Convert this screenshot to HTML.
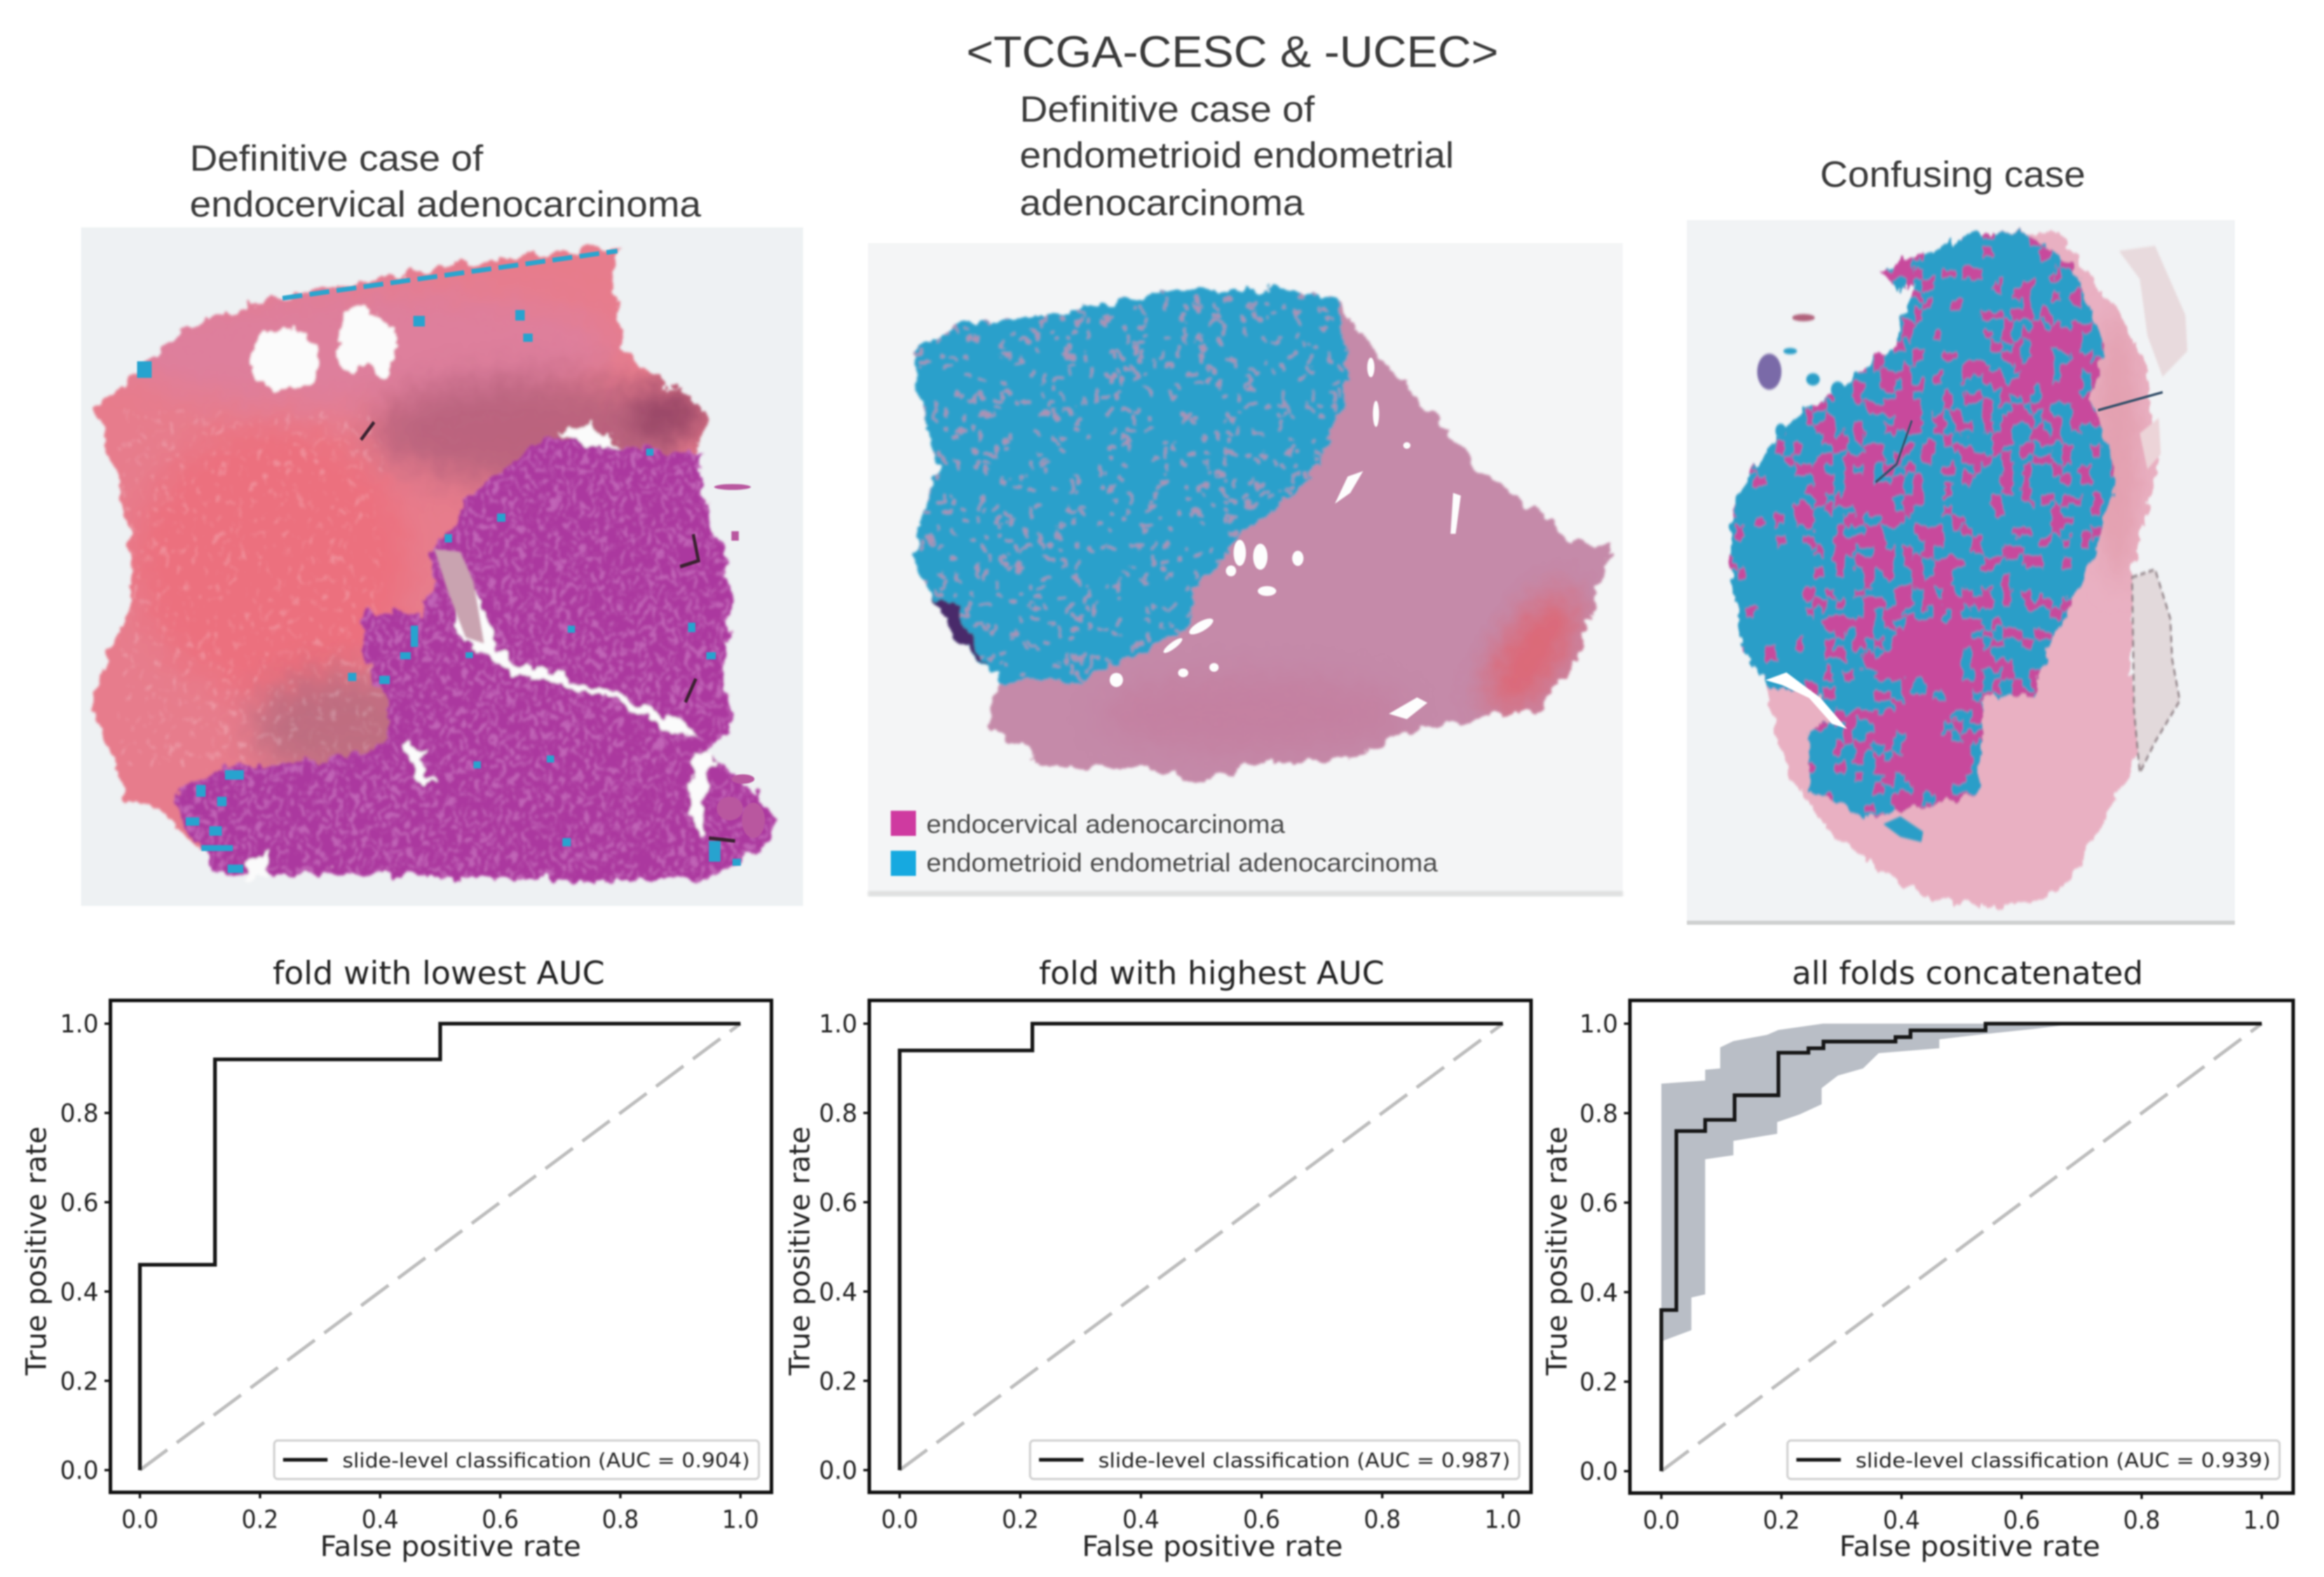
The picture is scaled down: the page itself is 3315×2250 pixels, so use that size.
<!DOCTYPE html>
<html lang="en"><head><meta charset="utf-8"><title>TCGA-CESC and UCEC slides and ROC curves</title>
<style>
html,body{margin:0;padding:0;background:#fff;width:3315px;height:2250px;overflow:hidden}
svg{display:block;filter:blur(1.1px)}
.h{font-family:"Liberation Sans",sans-serif;fill:#3a3a3a}
.c{font-family:"DejaVu Sans",sans-serif;fill:#222}
</style></head>
<body>
<svg id="fig" xmlns="http://www.w3.org/2000/svg" width="3315" height="2250" viewBox="0 0 1568 1064">
<defs>
<filter id="sp1" x="0" y="0" width="1" height="1"><feTurbulence type="fractalNoise" baseFrequency=".09 .07" numOctaves="2" seed="4"/><feColorMatrix values="0 0 0 0 1  0 0 0 0 1  0 0 0 0 1  0 0 7 0 -4.35"/></filter>
<filter id="sp2" x="0" y="0" width="1" height="1"><feTurbulence type="fractalNoise" baseFrequency=".11 .09" numOctaves="2" seed="9"/><feColorMatrix values="0 0 0 0 .9  0 0 0 0 .62  0 0 0 0 .86  0 0 8 0 -4.2"/></filter>
<filter id="b6" x="-40%" y="-40%" width="180%" height="180%"><feGaussianBlur stdDeviation="30"/></filter>
<filter id="b2" x="-10%" y="-10%" width="120%" height="120%"><feGaussianBlur stdDeviation="2"/></filter>
<filter id="rough" x="-5%" y="-5%" width="110%" height="110%"><feTurbulence type="fractalNoise" baseFrequency=".035" numOctaves="3" seed="7" result="n"/><feDisplacementMap in="SourceGraphic" in2="n" scale="34" xChannelSelector="R" yChannelSelector="G"/><feGaussianBlur stdDeviation="2.2"/></filter>
</defs>
<rect width="1568" height="1064" fill="#fff"/>

<text class="h" x="652" y="45" font-size="30" textLength="359" lengthAdjust="spacingAndGlyphs">&lt;TCGA-CESC &amp; -UCEC&gt;</text>
<text class="h" x="128" y="115" font-size="24.5" textLength="198" lengthAdjust="spacingAndGlyphs">Definitive case of</text>
<text class="h" x="128" y="146" font-size="24.5" textLength="345" lengthAdjust="spacingAndGlyphs">endocervical adenocarcinoma</text>
<text class="h" x="688" y="82" font-size="24.5" textLength="199" lengthAdjust="spacingAndGlyphs">Definitive case of</text>
<text class="h" x="688" y="113" font-size="24.5" textLength="293" lengthAdjust="spacingAndGlyphs">endometrioid endometrial</text>
<text class="h" x="688" y="145" font-size="24.5" textLength="192" lengthAdjust="spacingAndGlyphs">adenocarcinoma</text>
<text class="h" x="1228" y="126" font-size="24.5" textLength="179" lengthAdjust="spacingAndGlyphs">Confusing case</text>

<!-- Panel 1 -->
<g id="p1" transform="scale(.353 .3982)">
<clipPath id="c1"><polygon points="185,690 270,625 350,560 450,520 680,480 900,445 1190,415 1170,470 1190,590 1270,650 1320,670 1355,710 1330,760 1340,830 1370,900 1400,1020 1385,1150 1400,1240 1340,1270 1450,1340 1480,1400 1450,1440 1400,1470 1340,1490 1000,1490 700,1480 430,1480 380,1440 300,1370 240,1350 200,1260 175,1200 210,1100 250,1020 250,950 230,830 200,740"/></clipPath>
<clipPath id="c1b"><polygon points="1040,740 1340,770 1340,830 1370,900 1400,1020 1385,1150 1400,1240 1340,1270 1450,1340 1480,1400 1450,1440 1400,1470 1340,1490 1000,1490 700,1480 430,1480 380,1440 330,1350 430,1300 600,1290 720,1270 750,1220 700,1120 690,1040 800,1040 830,1000 820,940 900,840"/></clipPath>
<rect x="155" y="385" width="1380" height="1150" fill="#eef1f3"/>
<g filter="url(#rough)">
<g clip-path="url(#c1)">
<rect x="150" y="400" width="1350" height="1100" fill="#e77c8c"/>
<ellipse cx="520" cy="950" rx="260" ry="230" fill="#ec6f7e" filter="url(#b6)"/>
<ellipse cx="700" cy="590" rx="480" ry="100" fill="#de7f9c" filter="url(#b6)"/>
<ellipse cx="1010" cy="730" rx="300" ry="90" fill="#a85a78" filter="url(#b6)" opacity=".7"/>
<ellipse cx="1280" cy="700" rx="80" ry="40" fill="#8f3f62" filter="url(#b6)"/>
<ellipse cx="650" cy="1230" rx="170" ry="90" fill="#a9667c" filter="url(#b6)" opacity=".65"/>
<rect x="230" y="700" width="500" height="600" filter="url(#sp1)" opacity=".22"/>
</g>
<g clip-path="url(#c1b)">
<rect x="300" y="720" width="1200" height="800" fill="#ab389f"/>
<rect x="300" y="720" width="1200" height="800" filter="url(#sp2)" opacity=".3"/>
</g>
<g fill="#fbfbfb">
<ellipse cx="545" cy="610" rx="68" ry="50"/>
<path d="M640,600 L660,530 L700,515 L760,580 L740,640 L690,610 L670,640 Z"/>
<path d="M1060,730 L1130,720 L1190,755 L1120,755 Z"/>
<path d="M1320,1270 L1365,1280 L1350,1340 L1340,1420 L1322,1400 Z"/>
<path d="M470,1460 L515,1440 L510,1490 L465,1490 Z"/>
<path d="M775,1262 L822,1270 L800,1290 L835,1330 L790,1320 Z"/>
<path d="M870,1000 L910,1000 L950,1100 L1000,1130 L1150,1165 L1300,1225 L1340,1250 L1290,1240 L1150,1178 L1000,1145 L930,1115 L880,1080 Z"/>
</g>
</g>
<path d="M830,930 L880,935 L905,985 L925,1090 L890,1080 L855,1000 Z" fill="#c9a3b0" filter="url(#b2)"/>
<path d="M540,505 L900,460 L1180,425" fill="none" stroke="#2aa5cf" stroke-width="8" stroke-dasharray="38 14"/>
<g fill="#27a3cf">
<rect x="262" y="612" width="28" height="28"/><rect x="790" y="535" width="22" height="18"/><rect x="985" y="525" width="18" height="18"/><rect x="1000" y="565" width="18" height="14"/>
<rect x="785" y="1060" width="14" height="36"/><rect x="765" y="1105" width="20" height="12"/><rect x="665" y="1140" width="16" height="14"/><rect x="725" y="1145" width="20" height="14"/>
<rect x="430" y="1305" width="36" height="16"/><rect x="375" y="1330" width="18" height="20"/><rect x="415" y="1350" width="18" height="16"/><rect x="355" y="1385" width="26" height="14"/><rect x="400" y="1400" width="24" height="16"/><rect x="385" y="1432" width="60" height="10"/><rect x="435" y="1465" width="30" height="14"/><rect x="1355" y="1425" width="22" height="35"/><rect x="1400" y="1455" width="16" height="12"/><rect x="1075" y="1420" width="16" height="14"/><rect x="1350" y="1105" width="18" height="12"/><rect x="1315" y="1055" width="14" height="16"/><rect x="1085" y="1060" width="14" height="12"/><rect x="1235" y="760" width="14" height="12"/><rect x="950" y="870" width="16" height="14"/><rect x="850" y="905" width="14" height="14"/><rect x="890" y="1105" width="14" height="10"/><rect x="905" y="1290" width="14" height="12"/><rect x="1045" y="1280" width="14" height="12"/>
</g>
<path d="M1300,960 L1335,950 L1325,905 M690,745 L715,715 M1310,1190 L1330,1150 M1355,1420 L1405,1425" fill="none" stroke="#3a2230" stroke-width="6"/>
<g fill="#b9579f"><ellipse cx="1400" cy="825" rx="35" ry="5"/><rect x="1398" y="900" width="14" height="16"/><ellipse cx="1395" cy="1370" rx="25" ry="20"/><ellipse cx="1440" cy="1390" rx="22" ry="30"/><ellipse cx="1420" cy="1320" rx="22" ry="8"/></g>
</g>

<!-- Panel 2 -->
<g id="p2" transform="translate(567.6 47.3) scale(.3469 .368)">
<clipPath id="c2"><polygon points="145,510 240,465 400,450 630,405 850,400 970,420 1030,510 1130,610 1240,730 1340,800 1420,860 1495,880 1470,960 1430,1080 1360,1170 1240,1190 1100,1210 1000,1260 800,1270 710,1305 600,1280 400,1275 285,1200 310,1120 230,1050 175,960 140,890 170,780 190,710 160,640 145,560"/></clipPath>
<clipPath id="c2b"><polygon points="145,510 240,465 400,450 630,405 850,400 970,420 985,590 950,690 890,770 780,850 690,950 670,1030 530,1090 460,1120 310,1120 230,1050 175,960 140,890 170,780 190,710 160,640 145,560"/></clipPath>
<rect x="52" y="317" width="1468" height="1198" fill="#f4f5f6"/>
<rect x="52" y="1505" width="1468" height="10" fill="#dfe0e0" filter="url(#b2)"/>
<g filter="url(#rough)">
<g clip-path="url(#c2)">
<rect x="130" y="390" width="1380" height="930" fill="#c58aa9"/>
<ellipse cx="1345" cy="1070" rx="60" ry="130" fill="#e2606a" filter="url(#b6)" transform="rotate(35 1345 1070)" opacity=".8"/>
<ellipse cx="800" cy="1180" rx="300" ry="70" fill="#c47a9c" filter="url(#b6)" opacity=".6"/>
</g>
<g clip-path="url(#c2b)">
<rect x="130" y="390" width="900" height="760" fill="#2ba0cb"/>
<path id="flecks" fill="none" stroke="#cf8fae" stroke-width="6" opacity=".8"/>
<path d="M175,960 L230,990 L285,1095 L230,1050 Z" fill="#4a2a6a"/>
</g>
</g>
<g fill="#fdfdfd">
<ellipse cx="775" cy="885" rx="12" ry="24"/><ellipse cx="815" cy="892" rx="14" ry="24"/><ellipse cx="758" cy="918" rx="10" ry="10"/><ellipse cx="888" cy="895" rx="11" ry="14"/><ellipse cx="828" cy="955" rx="18" ry="9"/><ellipse cx="700" cy="1020" rx="26" ry="9" transform="rotate(-28 700 1020)"/><ellipse cx="645" cy="1055" rx="22" ry="6" transform="rotate(-35 645 1055)"/><ellipse cx="535" cy="1118" rx="13" ry="13"/><path d="M960,795 L985,745 L1015,735 L990,775 Z"/><path d="M1185,850 L1190,775 L1205,780 L1195,850 Z"/><path d="M1065,1180 L1120,1150 L1140,1160 L1100,1190 Z"/><ellipse cx="725" cy="1095" rx="9" ry="8"/><ellipse cx="665" cy="1105" rx="10" ry="8"/><ellipse cx="1030" cy="545" rx="7" ry="18"/><ellipse cx="1040" cy="630" rx="6" ry="24"/><ellipse cx="1100" cy="688" rx="7" ry="6"/>
</g>
</g>
<rect x="601" y="547" width="17" height="17" fill="#cf3aa0"/>
<text class="h" x="625" y="562" font-size="17.5" textLength="242" lengthAdjust="spacingAndGlyphs" fill-opacity=".9">endocervical adenocarcinoma</text>
<rect x="601" y="574" width="17" height="17" fill="#16a9e0"/>
<text class="h" x="625" y="588" font-size="17.5" textLength="345" lengthAdjust="spacingAndGlyphs" fill-opacity=".9">endometrioid endometrial adenocarcinoma</text>

<!-- Panel 3 -->
<g id="p3" transform="translate(1125.8 94.6) scale(.2564 .3469)">
<clipPath id="c3"><polygon points="555,255 650,225 800,180 1030,178 1100,260 1190,340 1250,430 1290,620 1260,720 1220,830 1225,900 1220,1050 1260,1150 1190,1260 1140,1330 1080,1410 1050,1450 950,1480 850,1490 740,1480 650,1460 500,1390 430,1350 380,1300 320,1240 290,1180 260,1060 195,990 165,850 160,800 170,720 220,640 340,530 430,500 540,420 600,400 610,350 640,310 650,280 600,290"/></clipPath>
<clipPath id="c3b"><polygon points="555,255 650,225 800,180 940,180 1060,240 1150,400 1110,500 1180,660 1100,850 1010,970 960,1080 830,1080 815,1270 700,1290 520,1320 370,1260 370,1150 430,1130 400,1080 260,1060 195,990 165,850 160,800 170,720 220,640 340,530 430,500 540,420 600,400 610,350 640,310 650,280 600,290"/></clipPath>
<rect x="48" y="155" width="1442" height="1370" fill="#f1f3f5"/>
<rect x="48" y="1518" width="1442" height="8" fill="#cfd0d0"/>
<g filter="url(#rough)">
<g clip-path="url(#c3)"><rect x="150" y="170" width="1150" height="1330" fill="#e9b0c2"/><ellipse cx="1180" cy="600" rx="60" ry="260" fill="#e3a0b0" filter="url(#b6)"/></g>
<g clip-path="url(#c3b)">
<rect x="150" y="170" width="1050" height="1160" fill="#2b9ec8"/>
<path id="mosaic" fill="#c84a9c"/>
</g>
</g>
<path d="M255,1050 L310,1035 L400,1085 L470,1145 L430,1135 L370,1085 L300,1060 Z" fill="#fff"/>
<path d="M545,665 L600,630 L640,545 M1130,525 L1300,490" fill="none" stroke="#35506a" stroke-width="5"/>
<g filter="url(#b2)">
<path d="M1185,215 L1280,205 L1360,340 L1365,410 L1300,460 L1260,380 L1240,270 Z" fill="#e8dadd"/>
<path d="M1240,570 L1290,540 L1295,610 L1260,640 Z" fill="#ecd4d8"/>
<path d="M1220,850 L1280,835 L1320,930 L1325,1010 L1345,1090 L1280,1170 L1240,1230 L1225,1110 Z" fill="#e2d9db" stroke="#8a7a80" stroke-width="5" stroke-dasharray="14 8"/>
<ellipse cx="265" cy="450" rx="32" ry="35" fill="#7a6aa8"/><ellipse cx="380" cy="465" rx="18" ry="12" fill="#2b9ec8"/><ellipse cx="445" cy="485" rx="18" ry="16" fill="#2b9ec8"/><ellipse cx="295" cy="565" rx="14" ry="14" fill="#2b9ec8"/><ellipse cx="320" cy="410" rx="18" ry="6" fill="#2b9ec8"/><ellipse cx="355" cy="345" rx="30" ry="7" fill="#b0607a"/>
<path d="M565,1330 L610,1315 L670,1345 L665,1365 L610,1355 Z" fill="#2b9ec8"/>
</g>
</g>

<!-- ROC charts -->
<g id="chart-1"></g>
<g id="chart-2"></g>
<g id="chart-3"></g>
</svg>
<script>
// chart data
const tickValues = [0, 0.2, 0.4, 0.6, 0.8, 1.0];
const tickLabels = ['0.0', '0.2', '0.4', '0.6', '0.8', '1.0'];
const chanceFpr = [0, 1];
const chanceTpr = [0, 1];
const lowestFpr = [0, 0, 0.125, 0.125, 0.5, 0.5, 1];
const lowestTpr = [0, 0.46, 0.46, 0.92, 0.92, 1, 1];
const highestFpr = [0, 0, 0.22, 0.22, 1];
const highestTpr = [0, 0.94, 0.94, 1, 1];
const allFpr = [0, 0, 0.025, 0.025, 0.073, 0.073, 0.122, 0.122, 0.195, 0.195, 0.245, 0.245, 0.27, 0.27, 0.39, 0.39, 0.415, 0.415, 0.54, 0.54, 1];
const allTpr = [0, 0.36, 0.36, 0.76, 0.76, 0.785, 0.785, 0.84, 0.84, 0.935, 0.935, 0.945, 0.945, 0.96, 0.96, 0.97, 0.97, 0.985, 0.985, 1, 1];
const bandUpperFpr = [0, 0, 0.073, 0.073, 0.098, 0.098, 0.12, 0.176, 0.195, 0.269, 1];
const bandUpperTpr = [0.29, 0.866, 0.873, 0.897, 0.90, 0.947, 0.961, 0.975, 0.986, 1, 1];
const bandLowerFpr = [0, 0.05, 0.05, 0.073, 0.073, 0.12, 0.12, 0.193, 0.193, 0.23, 0.267, 0.267, 0.294, 0.336, 0.362, 0.463, 0.463, 0.54, 0.62, 0.69, 1];
const bandLowerTpr = [0.29, 0.315, 0.388, 0.395, 0.697, 0.706, 0.738, 0.754, 0.78, 0.797, 0.82, 0.856, 0.884, 0.90, 0.934, 0.945, 0.965, 0.977, 0.988, 1, 1];

const SVGNS = 'http://www.w3.org/2000/svg';
function mk(parent, tag, attrs, txt) {
  const e = document.createElementNS(SVGNS, tag);
  for (const k in attrs) e.setAttribute(k, attrs[k]);
  if (txt !== undefined) e.textContent = txt;
  parent.appendChild(e);
  return e;
}
function drawRoc(id, g, fpr, tpr, auc, upperF, upperT, lowerF, lowerT) {
  const root = document.getElementById(id);
  const xs = v => g.x0 + v * (g.x1 - g.x0);
  const ys = v => g.y0 + v * (g.y1 - g.y0);
  const pts = (a, b) => a.map((v, i) => xs(v).toFixed(2) + ',' + ys(b[i]).toFixed(2)).join(' ');

  if (upperF) {
    const pf = upperF.concat(lowerF.slice().reverse());
    const pt = upperT.concat(lowerT.slice().reverse());
    const band = mk(root, 'polygon', {points: pts(pf, pt), fill: '#b9bec6'});
    
    
  }
  const chance = mk(root, 'polyline', {points: pts(chanceFpr, chanceTpr), fill: 'none', stroke: '#bdbdbd', 'stroke-width': 2.3, 'stroke-dasharray': '23 8'});
  
  
  const curve = mk(root, 'polyline', {points: pts(fpr, tpr), fill: 'none', stroke: '#161616', 'stroke-width': 2.5});
  
  
  const frame = mk(root, 'rect', {x: g.l, y: g.t, width: g.r - g.l, height: g.b - g.t, fill: 'none', stroke: '#111', 'stroke-width': 2.4});
  
  

  tickValues.forEach((v, i) => {
    const xt = mk(root, 'line', {x1: xs(v), x2: xs(v), y1: g.b, y2: g.b + 4, stroke: '#111', 'stroke-width': 1.6});
    
    
    const yt = mk(root, 'line', {x1: g.l - 4, x2: g.l, y1: ys(v), y2: ys(v), stroke: '#111', 'stroke-width': 1.6});
    
    
    const xl = mk(root, 'text', {class: 'c', x: xs(v), y: g.b + 24, 'font-size': 17, 'text-anchor': 'middle', textLength: 25, lengthAdjust: 'spacingAndGlyphs'}, tickLabels[i]);
    
    
    const yl = mk(root, 'text', {class: 'c', x: g.l - 8, y: ys(v) + 6, 'font-size': 17, 'text-anchor': 'end', textLength: 26, lengthAdjust: 'spacingAndGlyphs'}, tickLabels[i]);
    
    
  });

  const title = mk(root, 'text', {class: 'c', x: g.titleX, y: 664, 'font-size': 21.5, textLength: g.titleW, lengthAdjust: 'spacingAndGlyphs'}, g.title);
  
  
  const xa = mk(root, 'text', {class: 'c', x: g.xLabelX, y: 1050, 'font-size': 19, textLength: 176, lengthAdjust: 'spacingAndGlyphs'}, 'False positive rate');
  
  
  const ya = mk(root, 'text', {class: 'c', transform: 'translate(' + g.yLabelX + ' 928) rotate(-90)', 'font-size': 19, textLength: 168, lengthAdjust: 'spacingAndGlyphs'}, 'True positive rate');
  
  

  const box = mk(root, 'rect', {x: g.legX, y: 972, width: g.legW, height: 26, rx: 2.5, fill: '#fff', 'fill-opacity': .85, stroke: '#d4d4d4', 'stroke-width': 1.6});
  
  
  const ll = mk(root, 'line', {x1: g.legX + 6, x2: g.legX + 36, y1: 985, y2: 985, stroke: '#161616', 'stroke-width': 2.5});
  
  
  const lt = mk(root, 'text', {class: 'c', x: g.legX + 46, y: 990, 'font-size': 13.5, textLength: g.legW - 52, lengthAdjust: 'spacingAndGlyphs'}, 'slide-level classification (AUC = ' + auc + ')');
  
  
}
drawRoc('chart-1', {l: 74.5, r: 520.5, t: 675, b: 1007, x0: 94.4, x1: 499.6, y0: 992, y1: 690.7, title: 'fold with lowest AUC', titleX: 184, titleW: 224, xLabelX: 216, yLabelX: 31, legX: 185, legW: 327}, lowestFpr, lowestTpr, '0.904');
drawRoc('chart-2', {l: 586.5, r: 1033, t: 675, b: 1007, x0: 607, x1: 1014, y0: 992, y1: 690.7, title: 'fold with highest AUC', titleX: 701, titleW: 233, xLabelX: 730, yLabelX: 546, legX: 695, legW: 330}, highestFpr, highestTpr, '0.987');
drawRoc('chart-3', {l: 1099.7, r: 1547.2, t: 675, b: 1007.5, x0: 1120.9, x1: 1526, y0: 992.7, y1: 690.7, title: 'all folds concatenated', titleX: 1209, titleW: 237, xLabelX: 1241, yLabelX: 1057, legX: 1206, legW: 332}, allFpr, allTpr, '0.939', bandUpperFpr, bandUpperTpr, bandLowerFpr, bandLowerTpr);

// histology textures (deterministic, decorative)
function h(a, b) { const s = Math.sin(a * 12.9898 + b * 78.233) * 43758.5453; return s - Math.floor(s); }
(function () {
  let d = '';
  for (let y = 400; y < 1130; y += 22) for (let x = 140; x < 1000; x += 22) {
    if (h(x, y) < 0.5) {
      const a = h(y, x) * 3.14, l = 6 + 14 * h(x + 1, y);
      d += 'M' + (x + 20 * h(x, y + 2)).toFixed(0) + ',' + (y + 20 * h(x + 3, y)).toFixed(0) + 'l' + (l * Math.cos(a)).toFixed(0) + ',' + (l * Math.sin(a)).toFixed(0);
    }
  }
  document.getElementById('flecks').setAttribute('d', d);
  const blobs = [[950, 447, 110, .6], [680, 965, 170, .55], [484, 678, 90, .4], [640, 1170, 90, .45], [620, 270, 60, .55], [620, 500, 70, .45], [800, 735, 90, -.3], [720, 360, 90, -.3], [290, 820, 110, -.2], [450, 1230, 70, -.3]];
  let m = '';
  const cx = 26, cy = 20;
  for (let y = 170; y < 1340; y += cy) for (let x = 150; x < 1200; x += cx) {
    let p = 0.22;
    blobs.forEach(b => { const dx = x - b[0], dy = y - b[1]; p += b[3] * Math.exp(-(dx * dx + dy * dy) / (2 * b[2] * b[2])); });
    if (h(x * 0.37, y * 0.53) < p) m += 'M' + x + ',' + y + 'h' + cx + 'v' + cy + 'h-' + cx + 'z';
  }
  document.getElementById('mosaic').setAttribute('d', m);
})();
</script>
</body></html>
